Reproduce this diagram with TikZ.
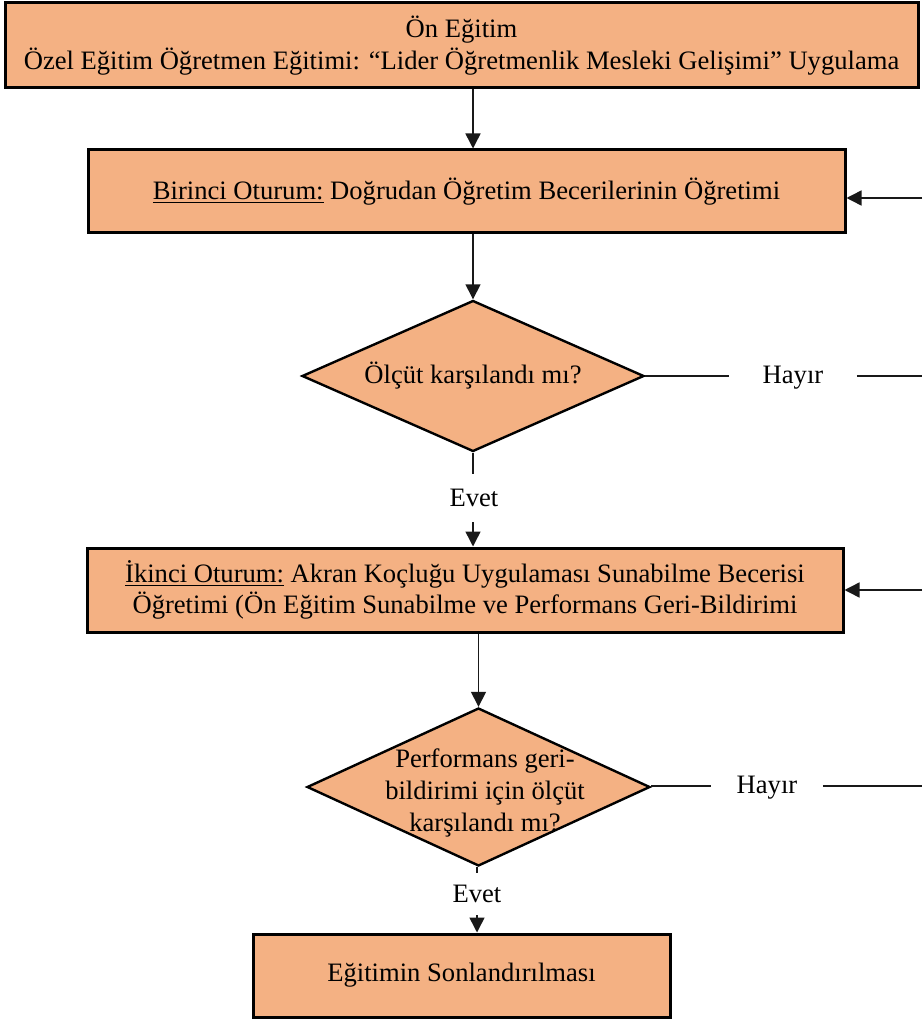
\documentclass[tikz,border=0pt]{standalone}
\usepackage{fontspec}
\setmainfont{Liberation Serif}
\usetikzlibrary{shapes.geometric,arrows.meta}
\definecolor{boxfill}{HTML}{F4B183}
\begin{document}
\begin{tikzpicture}[x=0.5pt,y=-0.5pt,
  every node/.style={font=\fontsize{13.3}{15.8}\selectfont, inner sep=0pt, align=center},
  procbox/.style={draw=black, fill=boxfill, line width=1.5pt, rectangle},
  decision/.style={draw=black, fill=boxfill, line width=1.2pt, diamond},
  conn/.style={line width=0.75pt, draw=black!90},
  arr/.style={conn, -{Triangle[length=7.5pt,width=7.5pt]}},
  lbl/.style={fill=none}
]
\useasboundingbox (0,0) rectangle (922,1021);

\node[procbox, minimum width=456.5pt, minimum height=42.5pt] (box1) at (461.5,45.5)
  {Ön Eğitim\\Özel Eğitim Öğretmen Eğitimi: “Lider Öğretmenlik Mesleki Gelişimi” Uygulama};

\node[procbox, minimum width=378.5pt, minimum height=41.5pt] (box2) at (466.5,191.5)
  {\underline{Birinci Oturum:} Doğrudan Öğretim Becerilerinin Öğretimi};

\node[decision, minimum width=171pt, minimum height=75.5pt, aspect=2.26] (d1) at (473,376)
  {Ölçüt karşılandı mı?};

\node[lbl, minimum width=63.5pt] (hayir1) at (793,378) {Hayır};
\coordinate (r1) at (922,376);
\coordinate (r1top) at (922,198);

\node[lbl, minimum height=24pt] (evet1) at (474,498) {Evet};

\node[procbox, minimum width=378pt, minimum height=42pt] (box3) at (465,590)
  {\underline{İkinci Oturum:} Akran Koçluğu Uygulaması Sunabilme Becerisi\\Öğretimi (Ön Eğitim Sunabilme ve Performans Geri-Bildirimi};

\node[decision, minimum width=171.5pt, minimum height=79pt, aspect=2.17] (d2) at (478.5,787) {};
\node[lbl] (d2text) at (485,793) {Performans geri-\\bildirimi için ölçüt\\karşılandı mı?};

\node[lbl, minimum width=55.5pt] (hayir2) at (767,788) {Hayır};
\coordinate (r2) at (922,786);
\coordinate (r2top) at (922,590);

\node[lbl, minimum height=21pt] (evet2) at (477,894) {Evet};

\node[procbox, minimum width=208.5pt, minimum height=41.5pt] (box4) at (461.5,975.5)
  {Eğitimin Sonlandırılması};

% connectors
\draw[arr] (box1.south -| d1.north) -- (box2.north -| d1.north);
\draw[arr] (box2.south -| d1.north) -- (d1.north);
\draw[conn] (d1.east) -- (hayir1.west |- d1.east);
\draw[conn] (hayir1.east |- r1) -- (r1);
\draw[arr] (r1top) -- (box2.east |- r1top);
\draw[conn] (d1.south) -- (d1.south |- evet1.north);
\draw[arr] (d1.south |- evet1.south) -- (box3.north -| d1.south);
\draw[arr] (box3.south -| d2.north) -- (d2.north);
\draw[conn] (d2.east |- r2) -- (hayir2.west |- r2);
\draw[conn] (hayir2.east |- r2) -- (r2);
\draw[arr] (r2top) -- (box3.east |- r2top);
\draw[conn] (d2.south -| evet2.north) -- (evet2.north);
\draw[arr] (evet2.south) -- (box4.north -| evet2.south);
\end{tikzpicture}
\end{document}
